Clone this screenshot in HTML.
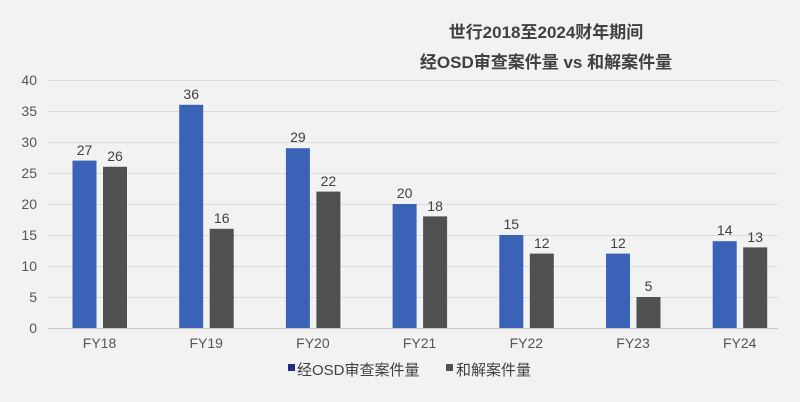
<!DOCTYPE html>
<html><head><meta charset="utf-8"><style>
body{margin:0;background:#f2f2f2;}
svg{display:block;font-family:"Liberation Sans","Noto Sans CJK SC",sans-serif;}
</style></head><body>
<svg width="800" height="402" viewBox="0 0 800 402" xmlns="http://www.w3.org/2000/svg">
<rect width="800" height="402" fill="#f2f2f2"/>
<g font-weight="bold" font-size="17" fill="#404040" text-anchor="middle">
<text x="546" y="38">世行2018至2024财年期间</text>
<text x="546" y="68">经OSD审查案件量 vs 和解案件量</text>
</g>
<g stroke="#dcdcdc" stroke-width="1">
<line x1="48" x2="778" y1="80.5" y2="80.5"/><line x1="48" x2="778" y1="111.5" y2="111.5"/>
<line x1="48" x2="778" y1="142.5" y2="142.5"/><line x1="48" x2="778" y1="173.5" y2="173.5"/>
<line x1="48" x2="778" y1="204.5" y2="204.5"/><line x1="48" x2="778" y1="235.5" y2="235.5"/>
<line x1="48" x2="778" y1="266.5" y2="266.5"/><line x1="48" x2="778" y1="297.5" y2="297.5"/>
</g>
<line x1="48" x2="778" y1="328.5" y2="328.5" stroke="#c8c8c8"/>
<g font-size="14" fill="#555" text-anchor="end">
<text x="37" y="85">40</text><text x="37" y="116">35</text><text x="37" y="147">30</text>
<text x="37" y="178">25</text><text x="37" y="209">20</text><text x="37" y="240">15</text>
<text x="37" y="271">10</text><text x="37" y="302">5</text><text x="37" y="333">0</text>
</g>
<g fill="#3a63b8">
<rect x="72.5" y="160.6" width="24" height="167.4"/>
<rect x="179.2" y="104.8" width="24" height="223.2"/>
<rect x="285.9" y="148.2" width="24" height="179.8"/>
<rect x="392.6" y="204" width="24" height="124"/>
<rect x="499.3" y="235" width="24" height="93"/>
<rect x="606" y="253.6" width="24" height="74.4"/>
<rect x="712.7" y="241.2" width="24" height="86.8"/>
</g>
<g fill="#505050">
<rect x="103" y="166.8" width="24" height="161.2"/>
<rect x="209.7" y="228.8" width="24" height="99.2"/>
<rect x="316.4" y="191.6" width="24" height="136.4"/>
<rect x="423.1" y="216.4" width="24" height="111.6"/>
<rect x="529.8" y="253.6" width="24" height="74.4"/>
<rect x="636.5" y="297" width="24" height="31"/>
<rect x="743.2" y="247.4" width="24" height="80.6"/>
</g>
<g font-size="14" fill="#404040" text-anchor="middle">
<text x="84.5" y="155">27</text><text x="115" y="161">26</text>
<text x="191.2" y="99">36</text><text x="221.7" y="223">16</text>
<text x="297.9" y="142">29</text><text x="328.4" y="186">22</text>
<text x="404.6" y="198">20</text><text x="435.1" y="211">18</text>
<text x="511.3" y="229">15</text><text x="541.8" y="248">12</text>
<text x="618" y="248">12</text><text x="648.5" y="291">5</text>
<text x="724.7" y="235">14</text><text x="755.2" y="242">13</text>
</g>
<g font-size="14" fill="#555" text-anchor="middle">
<text x="99.5" y="348">FY18</text><text x="206.2" y="348">FY19</text><text x="312.9" y="348">FY20</text>
<text x="419.6" y="348">FY21</text><text x="526.3" y="348">FY22</text><text x="633" y="348">FY23</text>
<text x="739.7" y="348">FY24</text>
</g>
<rect x="288" y="364" width="7" height="7" fill="#2a2a7a"/>
<text x="297" y="375" font-size="15" fill="#404040">经OSD审查案件量</text>
<rect x="446" y="364" width="7" height="7" fill="#505050"/>
<text x="456" y="375" font-size="15" fill="#404040">和解案件量</text>
</svg>
</body></html>
